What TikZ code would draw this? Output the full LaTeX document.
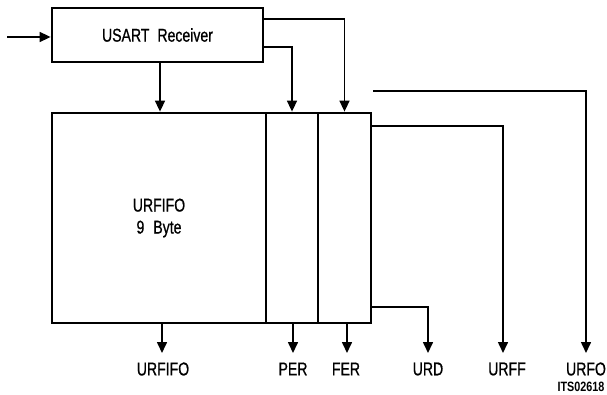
\documentclass[tikz,border=0pt]{standalone}
\usepackage{fontspec}
\setmainfont{Liberation Sans}[FakeStretch=0.76, FakeBold=0.8]
\newfontfamily\codefont{Liberation Sans}[FakeStretch=0.8]
\usetikzlibrary{arrows.meta}
\tikzset{
  box/.style={draw, line width=2.8pt, inner sep=0pt},
  conn/.style={line width=1.6pt, -{Triangle[length=11pt,width=10pt]}},
  lbl/.style={inner sep=0pt, font=\fontsize{18.5}{23}\selectfont},
  code/.style={inner sep=0pt, font=\codefont\bfseries\fontsize{13.5}{15}\selectfont}
}
\begin{document}
\begin{tikzpicture}[x=1pt,y=-1pt]
\useasboundingbox (0,0) rectangle (607,395);
% blocks
\node[box, minimum width=211pt, minimum height=54pt, font=\fontsize{18.5}{23}\selectfont] (usart) at (157.5,35) {USART\hspace{8pt}Receiver};
\node[box, minimum width=214pt, minimum height=210pt, align=center, font=\fontsize{18.5}{22}\selectfont] (fifo) at (159,218) {URFIFO\\9\hspace{9pt}Byte};
\node[box, minimum width=52pt, minimum height=210pt] (per) at (292,218) {};
\node[box, minimum width=53pt, minimum height=210pt] (fer) at (344.5,218) {};
% coordinates
\coordinate (in) at (7,37);
\coordinate (cfifo) at (160,0);
\coordinate (ya) at (0,19);
\coordinate (yb) at (0,47);
\coordinate (urfoStart) at (373,91);
\coordinate (yff) at (0,126);
\coordinate (yrd) at (0,307);
\coordinate (tURFIFO) at (162,353);
\coordinate (tPER) at (293,353);
\coordinate (tFER) at (347,353);
\coordinate (tURD) at (428,353);
\coordinate (tURFF) at (503,353);
\coordinate (tURFO) at (586,353);
% connectors
\draw[conn] (in) -- (usart.west |- in);
\draw[conn] (usart.south -| cfifo) -- (fifo.north -| cfifo);
\draw[conn] (usart.east |- yb) -| (per.north);
\draw[conn] (usart.east |- ya) -| (fer.north);
\draw[conn] (urfoStart) -| (tURFO);
\draw[conn] (fer.east |- yff) -| (tURFF);
\draw[conn] (fer.east |- yrd) -| (tURD);
\draw[conn] (fifo.south -| tURFIFO) -- (tURFIFO);
\draw[conn] (per.south -| tPER) -- (tPER);
\draw[conn] (fer.south -| tFER) -- (tFER);
% labels
\node[lbl] (lURFIFO) at (163,369) {URFIFO};
\node[lbl] (lPER) at (293,369) {PER};
\node[lbl] (lFER) at (346,369) {FER};
\node[lbl] (lURD) at (428,369) {URD};
\node[lbl] (lURFF) at (507,369) {URFF};
\node[lbl] (lURFO) at (586,369) {URFO};
\node[code] (lcode) at (581,387) {ITS02618};
\end{tikzpicture}
\end{document}
